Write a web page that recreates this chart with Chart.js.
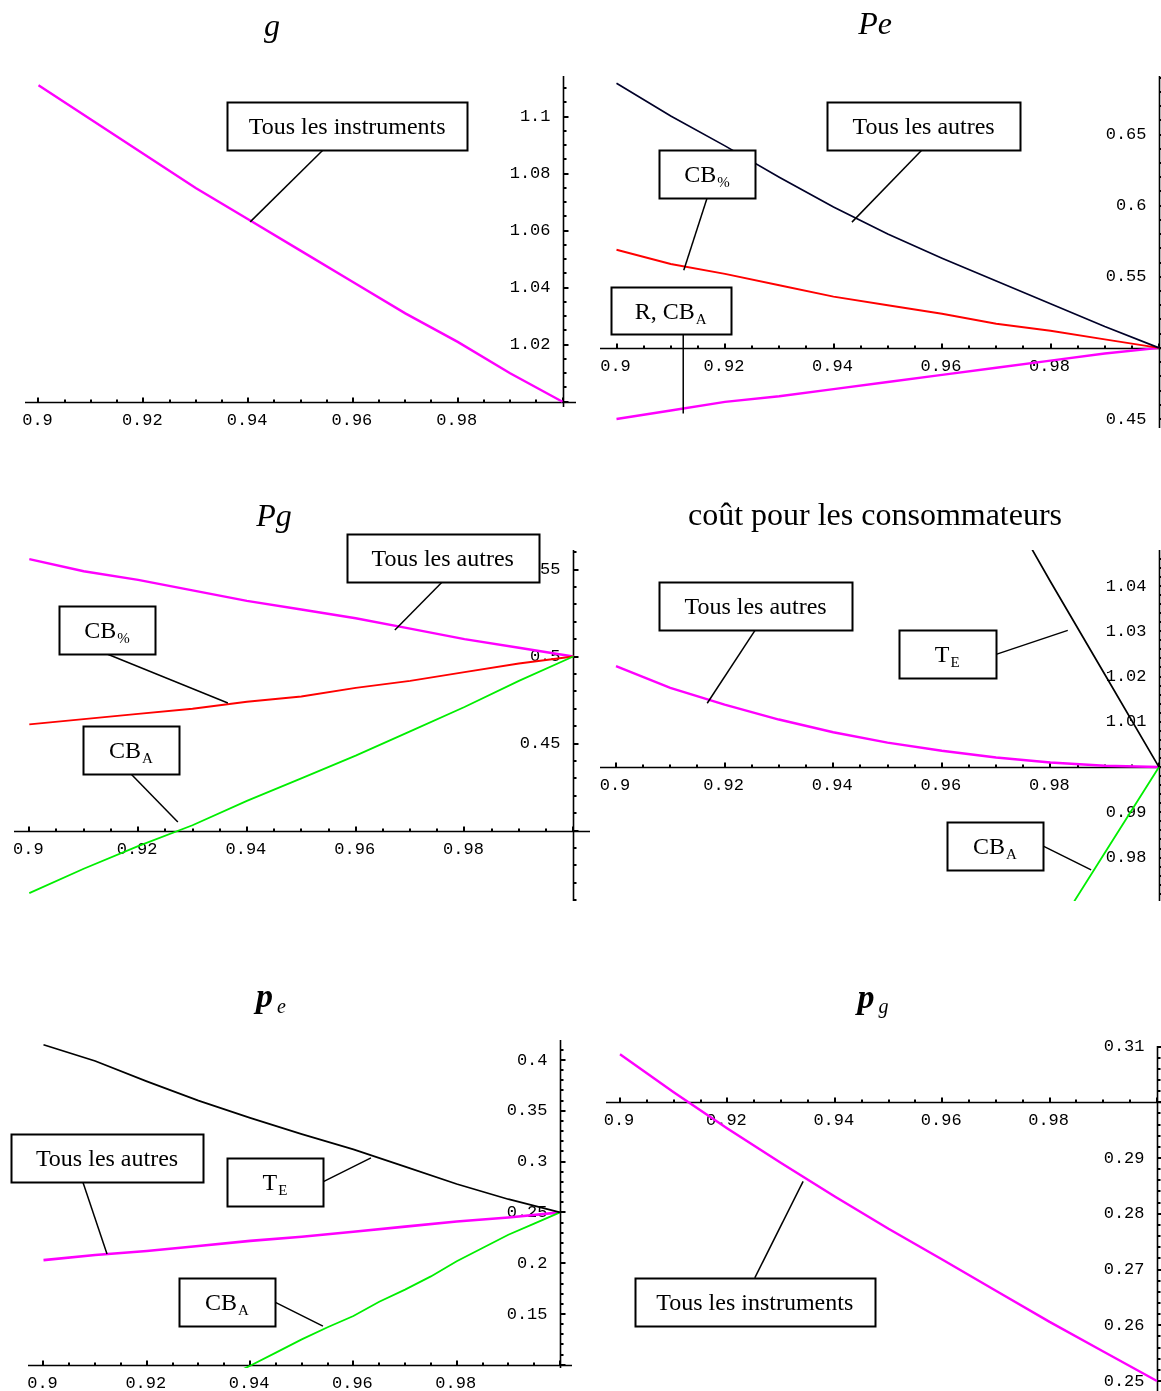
<!DOCTYPE html>
<html>
<head>
<meta charset="utf-8">
<title>Instruments</title>
<script src="https://cdn.jsdelivr.net/npm/chart.js@4"></script>
<style>
  html, body { margin: 0; padding: 0; background: #fff; }
  #page { position: relative; width: 1161px; height: 1391px; overflow: hidden; }
  #page canvas { position: absolute; left: 0; top: 0; }
  .title { position: absolute; transform: translateX(-50%); line-height: 0; white-space: nowrap;
           font-family: "Liberation Serif", "Times New Roman", serif; font-size: 32px; color: #000; }
  .title .sub { position: relative; line-height: 0; margin-left: 4px; }
</style>
</head>
<body>
<div id="page">
  <canvas id="c-g" width="1161" height="1391"></canvas>
  <canvas id="c-pe" width="1161" height="1391"></canvas>
  <canvas id="c-pg" width="1161" height="1391"></canvas>
  <canvas id="c-cout" width="1161" height="1391"></canvas>
  <canvas id="c-pie" width="1161" height="1391"></canvas>
  <canvas id="c-pig" width="1161" height="1391"></canvas>

  <div class="title" style="left:272px; top:25px; font-style:italic;">g</div>
  <div class="title" style="left:875px; top:23px; font-style:italic;">Pe</div>
  <div class="title" style="left:274px; top:515px; font-style:italic;">Pg</div>
  <div class="title" style="left:875px; top:514px;">coût pour les consommateurs</div>
  <div class="title" style="left:271px; top:996px; font-size:34px; font-style:italic; font-weight:bold;">p<span class="sub" style="font-size:20px; top:6px; font-weight:normal;">e</span></div>
  <div class="title" style="left:873px; top:997px; font-size:34px; font-style:italic; font-weight:bold;">p<span class="sub" style="font-size:20px; top:5px; font-weight:normal;">g</span></div>
</div>

<script>
var W = 1161, H = 1391;

// valeurs de delta communes a la plupart des courbes
var deltas = [0.9, 0.91, 0.92, 0.93, 0.94, 0.95, 0.96, 0.97, 0.98, 0.99, 1.0];
var xTickLabels = ['0.9', '0.92', '0.94', '0.96', '0.98'];

// g
var gTous = [1.111, 1.099, 1.087, 1.075, 1.064, 1.053, 1.042, 1.031, 1.021, 1.010, 1.000];
var gTicks = ['1.02', '1.04', '1.06', '1.08', '1.1'];

// Pe
var peAutres = [0.686, 0.663, 0.642, 0.620, 0.599, 0.580, 0.563, 0.547, 0.531, 0.515, 0.500];
var peCBpct = [0.569, 0.559, 0.552, 0.544, 0.536, 0.530, 0.524, 0.517, 0.512, 0.506, 0.500];
var peRCBA = [0.450, 0.456, 0.462, 0.466, 0.471, 0.476, 0.481, 0.486, 0.491, 0.496, 0.500];
var peTicks = ['0.45', '0.55', '0.6', '0.65'];

// Pg
var pgAutres = [0.556, 0.549, 0.544, 0.538, 0.532, 0.527, 0.522, 0.516, 0.510, 0.505, 0.500];
var pgCBpct = [0.461, 0.464, 0.467, 0.470, 0.474, 0.477, 0.482, 0.486, 0.491, 0.496, 0.500];
var pgCBA = [0.364, 0.378, 0.391, 0.403, 0.417, 0.430, 0.443, 0.457, 0.471, 0.486, 0.500];
var pgTicks = ['0.45', '0.5', '0.55'];

// cout pour les consommateurs
var coutAutres = [1.0223, 1.0175, 1.0138, 1.0105, 1.0077, 1.0054, 1.0036, 1.0021, 1.0010, 1.0003, 1.0000];
var coutTEx = [0.97, 0.98, 0.99, 1.0];
var coutTE = [1.062, 1.041, 1.0205, 1.000];
var coutCBAx = [0.98, 0.99, 1.0];
var coutCBA = [0.962, 0.981, 1.000];
var coutTicks = ['0.98', '0.99', '1.01', '1.02', '1.03', '1.04'];

// pi e
var pieTE = [0.415, 0.399, 0.379, 0.360, 0.343, 0.327, 0.312, 0.295, 0.278, 0.263, 0.250];
var pieAutres = [0.203, 0.208, 0.212, 0.217, 0.222, 0.226, 0.231, 0.236, 0.241, 0.245, 0.250];
var pieCBAx = [0.935, 0.94, 0.945, 0.95, 0.955, 0.96, 0.965, 0.97, 0.975, 0.98, 0.985, 0.99, 0.995, 1.0];
var pieCBA = [0.087, 0.099, 0.112, 0.125, 0.137, 0.148, 0.162, 0.174, 0.187, 0.202, 0.215, 0.228, 0.239, 0.250];
var pieTicks = ['0.15', '0.2', '0.25', '0.3', '0.35', '0.4'];

// pi g
var pigTous = [0.3086, 0.3018, 0.2953, 0.2891, 0.2831, 0.2773, 0.2718, 0.2662, 0.2606, 0.2553, 0.2500];
var pigTicks = ['0.25', '0.26', '0.27', '0.28', '0.29', '0.31'];

var MAG = '#ff00ff', RED = '#ff0000', GRN = '#00ee00', BLK = '#000000', NAVY = '#000028';
var MAIN_FONT = '24px "Liberation Serif", "Times New Roman", serif';
var SUB_FONT = '15px "Liberation Serif", "Times New Roman", serif';
var TICK_FONT = '17px "Liberation Mono", "Courier New", monospace';

var panels = [
    {
        id: 'c-g', area: { left: 25, right: 576, top: 76, bottom: 407 },
        calX: [[38.5, 0.9], [562.5, 1.0]], calY: [[401.7, 1.0], [344.7, 1.02]],
        cross: 1.0, yMinor: 0.005, yTicks: gTicks,
        series: [{ xs: deltas, ys: gTous, color: MAG, width: 2.4 }],
        boxes: [
            { text: 'Tous les instruments', x: 0.9589, y: 1.0967, w: 240, h: 48, from: [0.9543, 1.0883], to: [0.9404, 1.0631] }
        ]
    },
    {
        id: 'c-pe', area: { left: 600, right: 1161, top: 76, bottom: 428 },
        calX: [[616.5, 0.9], [1159, 1.0]], calY: [[419, 0.45], [134.5, 0.65]],
        cross: 0.5, yMinor: 0.01, yTicks: peTicks,
        series: [
            { xs: deltas, ys: peAutres, color: NAVY, width: 1.7 },
            { xs: deltas, ys: peCBpct, color: RED, width: 1.9 },
            { xs: deltas, ys: peRCBA, color: MAG, width: 2.4 }
        ],
        boxes: [
            { text: 'Tous les autres', x: 0.9566, y: 0.6560, w: 193, h: 48, from: [0.9563, 0.6391], to: [0.9434, 0.5884] },
            { text: 'CB', sub: '%', x: 0.9167, y: 0.6222, w: 96, h: 48, from: [0.9167, 0.6053], to: [0.9124, 0.5546] },
            { text: 'R, CB', sub: 'A', x: 0.9100, y: 0.5261, w: 120, h: 47, from: [0.9123, 0.5095], to: [0.9123, 0.4539] }
        ]
    },
    {
        id: 'c-pg', area: { left: 14, right: 590, top: 550, bottom: 901 },
        calX: [[29.3, 0.9], [573.3, 1.0]], calY: [[743.5, 0.45], [569.5, 0.55]],
        cross: 0.4, yMinor: 0.01, yTicks: pgTicks,
        series: [
            { xs: deltas, ys: pgCBA, color: GRN, width: 1.8 },
            { xs: deltas, ys: pgCBpct, color: RED, width: 1.9 },
            { xs: deltas, ys: pgAutres, color: MAG, width: 2.4 }
        ],
        boxes: [
            { text: 'Tous les autres', x: 0.9760, y: 0.5566, w: 192, h: 48, from: [0.9759, 0.5428], to: [0.9672, 0.5152] },
            { text: 'CB', sub: '%', x: 0.9143, y: 0.5152, w: 96, h: 48, from: [0.9143, 0.5014], to: [0.9365, 0.4733] },
            { text: 'CB', sub: 'A', x: 0.9187, y: 0.4463, w: 96, h: 48, from: [0.9187, 0.4325], to: [0.9273, 0.4049] }
        ]
    },
    {
        id: 'c-cout', area: { left: 600, right: 1161, top: 550, bottom: 901 },
        calX: [[616, 0.9], [1159, 1.0]], calY: [[857.6, 0.98], [586, 1.04]],
        cross: 1.0, yMinor: 0.002, yTicks: coutTicks,
        series: [
            { xs: coutTEx, ys: coutTE, color: BLK, width: 1.7 },
            { xs: coutCBAx, ys: coutCBA, color: GRN, width: 1.8 },
            { xs: deltas, ys: coutAutres, color: MAG, width: 2.4 }
        ],
        boxes: [
            { text: 'Tous les autres', x: 0.9257, y: 1.0355, w: 193, h: 48, from: [0.9256, 1.0302], to: [0.9168, 1.0141] },
            { text: 'T', sub: 'E', x: 0.9610, y: 1.0249, w: 97, h: 48, from: [0.9700, 1.0249], to: [0.9832, 1.0302] },
            { text: 'CB', sub: 'A', x: 0.9698, y: 0.9826, w: 96, h: 48, from: [0.9786, 0.9826], to: [0.9875, 0.9773] }
        ]
    },
    {
        id: 'c-pie', area: { left: 28, right: 572, top: 1040, bottom: 1368 },
        calX: [[43.5, 0.9], [560, 1.0]], calY: [[1314, 0.15], [1060, 0.4]],
        cross: 0.1, yMinor: 0.01, yTicks: pieTicks,
        series: [
            { xs: deltas, ys: pieTE, color: BLK, width: 1.7 },
            { xs: pieCBAx, ys: pieCBA, color: GRN, width: 1.8 },
            { xs: deltas, ys: pieAutres, color: MAG, width: 2.6 }
        ],
        boxes: [
            { text: 'Tous les autres', x: 0.9123, y: 0.3037, w: 192, h: 48, from: [0.9076, 0.2801], to: [0.9123, 0.2091] },
            { text: 'T', sub: 'E', x: 0.9448, y: 0.2801, w: 96, h: 48, from: [0.9541, 0.2801], to: [0.9634, 0.3037] },
            { text: 'CB', sub: 'A', x: 0.9355, y: 0.1617, w: 96, h: 48, from: [0.9448, 0.1617], to: [0.9541, 0.1381] }
        ]
    },
    {
        id: 'c-pig', area: { left: 606, right: 1161, top: 1046, bottom: 1391 },
        calX: [[620, 0.9], [1157, 1.0]], calY: [[1381, 0.25], [1046.5, 0.31]],
        cross: 0.3, yMinor: 0.002, yTicks: pigTicks,
        series: [{ xs: deltas, ys: pigTous, color: MAG, width: 2.4 }],
        boxes: [
            { text: 'Tous les instruments', x: 0.9251, y: 0.2642, w: 240, h: 48, from: [0.9251, 0.2685], to: [0.9341, 0.2858] }
        ]
    }
];

// valeurs aux bords de la zone a partir de deux points de calage
function rangeFor(cal, p1, p2) {
    var per = (cal[1][1] - cal[0][1]) / (cal[1][0] - cal[0][0]);
    return [cal[0][1] + (p1 - cal[0][0]) * per, cal[0][1] + (p2 - cal[0][0]) * per];
}

/* Axes facon Mathematica */
function axesPlugin(p) {
    return {
        id: 'mmaAxes',
        beforeDatasetsDraw: function (chart) {
            var ctx = chart.ctx, sx = chart.scales.x, sy = chart.scales.y, a = chart.chartArea;
            var y0 = Math.round(sy.getPixelForValue(p.cross)) + 0.5;
            var x0 = Math.round(sx.getPixelForValue(1)) + 0.5;
            ctx.save();
            ctx.strokeStyle = '#000';
            ctx.lineWidth = 1.6;
            ctx.beginPath();
            ctx.moveTo(a.left, y0); ctx.lineTo(a.right, y0);
            ctx.moveTo(x0, a.top); ctx.lineTo(x0, a.bottom);
            ctx.stroke();

            ctx.lineWidth = 2;
            ctx.beginPath();
            for (var k = 0; k <= 20; k++) {
                var px = Math.round(sx.getPixelForValue(0.9 + k * 0.005));
                var len = (k % 4 === 0) ? 5 : 3;
                ctx.moveTo(px, y0); ctx.lineTo(px, y0 - len);
            }
            var majors = p.yTicks.map(parseFloat).concat([p.cross]);
            var jLo = Math.ceil(sy.min / p.yMinor - 1e-6), jHi = Math.floor(sy.max / p.yMinor + 1e-6);
            for (var j = jLo; j <= jHi; j++) {
                var v = j * p.yMinor;
                var isMajor = majors.some(function (m) { return Math.abs(m - v) < p.yMinor / 10; });
                var py = Math.round(sy.getPixelForValue(v));
                ctx.moveTo(x0, py); ctx.lineTo(x0 + (isMajor ? 5 : 3), py);
            }
            ctx.stroke();

            ctx.fillStyle = '#000';
            ctx.font = TICK_FONT;
            ctx.textAlign = 'center';
            ctx.textBaseline = 'middle';
            xTickLabels.forEach(function (t) {
                ctx.fillText(t, sx.getPixelForValue(parseFloat(t)) - 1, y0 + 18);
            });
            ctx.textAlign = 'right';
            p.yTicks.forEach(function (t) {
                ctx.fillText(t, x0 - 13, sy.getPixelForValue(parseFloat(t)));
            });
            ctx.restore();
        }
    };
}

/* Etiquettes encadrees avec leur trait */
function boxesPlugin(p) {
    return {
        id: 'mmaBoxes',
        afterDatasetsDraw: function (chart) {
            var ctx = chart.ctx, sx = chart.scales.x, sy = chart.scales.y;
            ctx.save();
            p.boxes.forEach(function (b) {
                ctx.strokeStyle = '#000';
                ctx.lineWidth = 1.5;
                ctx.beginPath();
                ctx.moveTo(sx.getPixelForValue(b.from[0]), sy.getPixelForValue(b.from[1]));
                ctx.lineTo(sx.getPixelForValue(b.to[0]), sy.getPixelForValue(b.to[1]));
                ctx.stroke();

                var cx = sx.getPixelForValue(b.x), cy = sy.getPixelForValue(b.y);
                var l = Math.round(cx - b.w / 2) + 0.5, t = Math.round(cy - b.h / 2) + 0.5;
                ctx.fillStyle = '#fff';
                ctx.fillRect(l, t, b.w, b.h);
                ctx.lineWidth = 2;
                ctx.strokeRect(l, t, b.w, b.h);

                ctx.fillStyle = '#000';
                ctx.textAlign = 'left';
                ctx.textBaseline = 'alphabetic';
                ctx.font = MAIN_FONT;
                var w1 = ctx.measureText(b.text).width, w2 = 0;
                if (b.sub) {
                    ctx.font = SUB_FONT;
                    w2 = ctx.measureText(b.sub).width + 1;
                }
                var tx = cx - (w1 + w2) / 2;
                ctx.font = MAIN_FONT;
                ctx.fillText(b.text, tx, cy + 8);
                if (b.sub) {
                    ctx.font = SUB_FONT;
                    ctx.fillText(b.sub, tx + w1 + 1, cy + 13);
                }
            });
            ctx.restore();
        }
    };
}

function makeChart(p) {
    var a = p.area;
    var xr = rangeFor(p.calX, a.left, a.right);
    var yr = rangeFor(p.calY, a.bottom, a.top);
    return new Chart(document.getElementById(p.id), {
        type: 'line',
        data: {
            datasets: p.series.map(function (s) {
                return {
                    data: s.xs.map(function (x, i) { return { x: x, y: s.ys[i] }; }),
                    borderColor: s.color,
                    borderWidth: s.width,
                    pointRadius: 0,
                    tension: 0,
                    fill: false
                };
            })
        },
        options: {
            responsive: false,
            animation: false,
            events: [],
            layout: { padding: { left: a.left, right: W - a.right, top: a.top, bottom: H - a.bottom } },
            scales: {
                x: { type: 'linear', display: false, min: xr[0], max: xr[1] },
                y: { type: 'linear', display: false, min: yr[0], max: yr[1] }
            },
            plugins: { legend: { display: false }, tooltip: { enabled: false } }
        },
        plugins: [axesPlugin(p), boxesPlugin(p)]
    });
}

var charts = panels.map(makeChart);
</script>
</body>
</html>
